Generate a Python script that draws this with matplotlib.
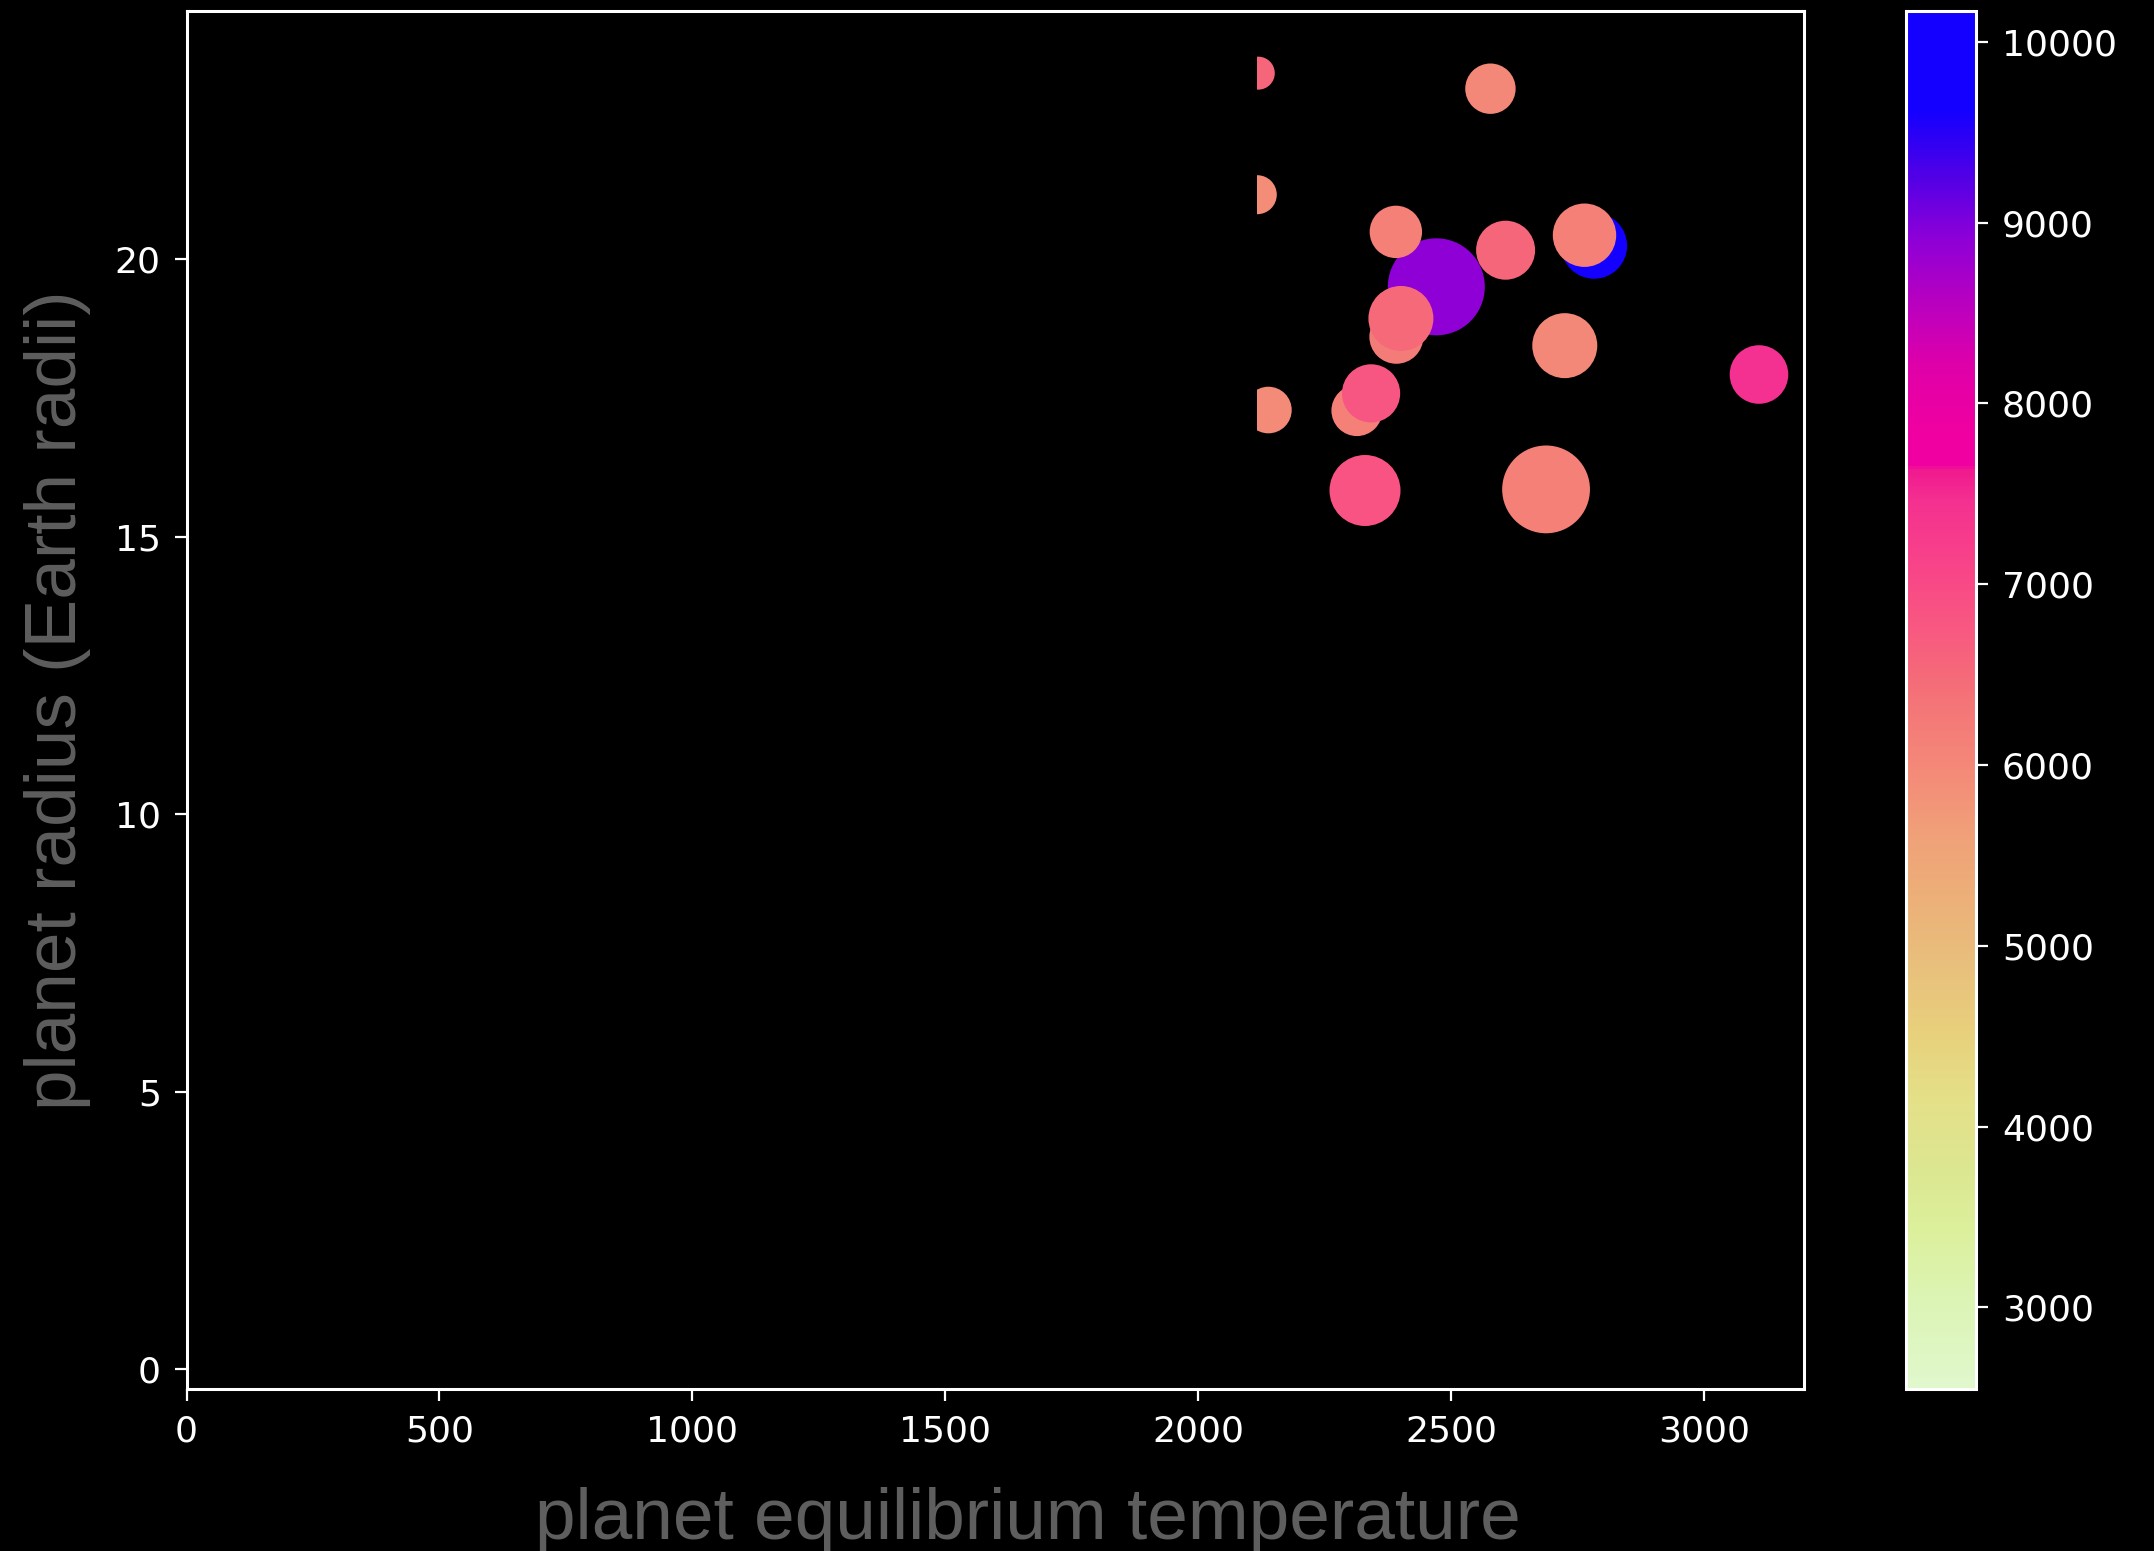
import matplotlib
matplotlib.use("Agg")
import matplotlib.pyplot as plt
import numpy as np
from matplotlib.colors import LinearSegmentedColormap, Normalize
from matplotlib.patches import Rectangle

# ---- data ----
eq_temp = [2783, 2471, 2314, 2392, 2401, 2119, 2578, 2117, 2391, 2608, 2764,
           2725, 3109, 2342, 2139, 2330, 2688]
radius = [20.24, 19.50, 17.27, 18.60, 18.93, 23.35, 23.07, 21.16, 20.49, 20.16,
          20.43, 18.44, 17.92, 17.58, 17.28, 15.83, 15.85]
star_temp = [9900, 8900, 6150, 6200, 6500, 6550, 6000, 5900, 6150, 6550, 6150,
             6000, 7450, 6800, 5950, 6850, 6150]
marker_size = [2258, 4877, 1348, 1512, 2190, 564, 1317, 789, 1423, 1805, 2084,
               2190, 1780, 1756, 1126, 2613, 3996]

cbar_ticks = [3000, 4000, 5000, 6000, 7000, 8000, 9000, 10000]
x_ticks = [0, 500, 1000, 1500, 2000, 2500, 3000]
y_ticks = [0, 5, 10, 15, 20]

vmin, vmax = 2548, 10171
visible_from = 2117

# ---- colormap ----
anchors = [
    (2548, "#e0f8cc"), (3040, "#dcf4b4"), (3411, "#dcf09c"), (3776, "#dce690"),
    (4146, "#e4e088"), (4516, "#e8d07c"), (4881, "#e8c07c"), (5252, "#ecb078"),
    (5622, "#f0a078"), (5987, "#f48878"), (6357, "#f47478"), (6451, "#f46c78"),
    (6727, "#f85a80"), (7092, "#f84488"), (7463, "#f43090"), (7645, "#f01890"),
    (7656, "#f000a0"), (7833, "#f000a0"), (8198, "#e000a8"), (8568, "#b800c0"),
    (8939, "#8a00d8"), (9303, "#4a00e8"), (9619, "#1400ff"), (10171, "#1400ff"),
]
cmap = LinearSegmentedColormap.from_list(
    "startemp", [((v - vmin) / (vmax - vmin), c) for v, c in anchors], N=512)
norm = Normalize(vmin=vmin, vmax=vmax)

W, H, DPI = 2154, 1551, 200
fig = plt.figure(figsize=(W / DPI, H / DPI), dpi=DPI, facecolor="black")
ax = fig.add_axes([186.6 / W, 1 - 1389 / H, (1804 - 186.6) / W, (1389 - 11) / H])
ax.set_facecolor("black")

sc = ax.scatter(eq_temp, radius, s=np.array(marker_size) / 4.0, c=star_temp,
                cmap=cmap, norm=norm, linewidths=0)
clip = Rectangle((visible_from, -100), 10000, 300, transform=ax.transData)
sc.set_clip_path(clip)

ax.set_xlim(0, 3198)
ax.set_ylim(-0.36, 24.47)
ax.set_xticks(x_ticks)
ax.set_yticks(y_ticks)
for sp in ax.spines.values():
    sp.set_color("white")
    sp.set_linewidth(1.1)
ax.tick_params(colors="white", labelsize=13, length=4.3, width=0.8, pad=5)

lab_font = dict(family=["Liberation Sans", "DejaVu Sans"], size=26.3, color="#5e5e5e")
ax.set_xlabel("planet equilibrium temperature", **lab_font)
ax.set_ylabel("planet radius (Earth radii)", **lab_font)
ax.xaxis.set_label_coords(0.52, -0.071)
ax.yaxis.set_label_coords(-0.059, 0.5)

cax = fig.add_axes([1906 / W, 1 - 1389 / H, 70 / W, (1389 - 11) / H])
cb = fig.colorbar(sc, cax=cax, ticks=cbar_ticks)
cb.outline.set_edgecolor("white")
cb.outline.set_linewidth(1.1)
cax.tick_params(colors="white", labelsize=13, length=4.3, width=0.8, pad=5)

fig.savefig("out.png", dpi=DPI, facecolor="black")
